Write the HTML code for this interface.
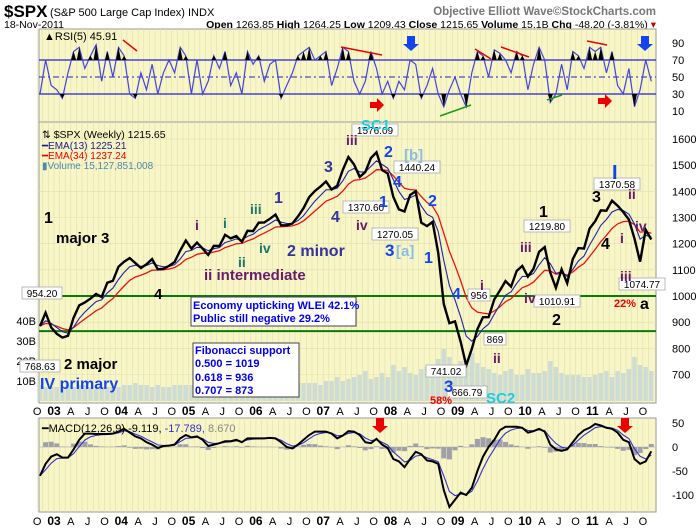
<!DOCTYPE html>
<html><head><meta charset="utf-8"><style>
body{margin:0;background:#fff;}
svg{display:block;font-family:"Liberation Sans",sans-serif;}
</style></head><body>
<svg id="c" width="700" height="530" viewBox="0 0 700 530">
<rect x="0" y="0" width="700" height="530" fill="#fff"/>
<g>
<text x="4" y="17" font-size="17" font-weight="bold" fill="#000">$SPX</text>
<text x="50" y="16" font-size="11" fill="#000">(S&amp;P 500 Large Cap Index) INDX</text>
<text x="656" y="15" font-size="11.5" font-weight="bold" fill="#777" text-anchor="end">Objective Elliott Wave©StockCharts.com</text>
<text x="4" y="28" font-size="10.5" fill="#000">18-Nov-2011</text>
<text x="656" y="28" font-size="10.5" fill="#000" text-anchor="end"><tspan font-weight="bold">Open</tspan> 1263.85 <tspan font-weight="bold">High</tspan> 1264.25 <tspan font-weight="bold">Low</tspan> 1209.43 <tspan font-weight="bold">Close</tspan> 1215.65 <tspan font-weight="bold">Volume</tspan> 15.1B <tspan font-weight="bold">Chg</tspan> -48.20 (-3.81%) <tspan fill="#c00">▾</tspan></text>
</g>
<g id="rsi"></g>
<g id="main"></g>
<g id="macd"></g>
</svg>
<script>
// ---- data (monthly, Oct 2002 .. Nov 2011) ----
const closes=[885,936,880,
855,841,848,917,964,975,990,1008,996,1051,1058,1112,
1131,1145,1126,1107,1121,1141,1102,1104,1115,1130,1174,1212,
1181,1204,1181,1157,1192,1191,1234,1220,1229,1207,1249,1248,
1280,1281,1295,1311,1270,1270,1277,1304,1336,1378,1401,1418,
1438,1407,1421,1482,1531,1503,1455,1474,1527,1549,1481,1468,
1379,1331,1323,1386,1400,1280,1267,1283,1166,969,896,903,
826,735,798,873,919,919,987,1021,1057,1036,1096,1115,
1074,1104,1169,1187,1089,1031,1102,1049,1141,1183,1181,1258,
1286,1327,1326,1364,1345,1321,1292,1219,1131,1253,1216];
const volumes=[8,7,7,
7,7,8,7,8,8,7,6,7,7,7,7,
8,8,9,8,8,7,8,7,7,8,8,8,
8,8,9,8,8,8,8,8,8,9,8,8,
9,9,9,8,11,10,9,9,9,9,9,8,
10,10,12,10,11,12,13,15,11,12,14,12,
18,15,17,14,13,16,17,15,21,26,22,18,
20,21,24,19,17,16,14,13,15,16,13,13,
16,14,14,15,20,17,14,13,13,13,12,12,
13,14,15,12,15,14,16,22,18,17,15];
const rsiVals=[30,70,40,
35,25,55,80,85,60,75,88,45,80,50,85,
75,30,25,55,35,65,30,55,70,55,85,75,
30,70,30,45,75,60,80,40,55,30,80,65,
75,45,65,70,25,40,55,75,80,85,70,75,
80,40,60,85,80,45,30,45,80,60,30,45,
25,45,35,70,65,25,40,60,30,15,35,50,
30,15,55,80,75,50,82,78,70,55,80,75,
35,65,85,70,20,30,65,35,80,75,60,85,
80,85,55,80,40,30,60,15,35,70,45];
const macdVals=[-60,-35,-20,
-15,-22,-22,-5,15,28,28,27,27,27,28,32,
38,30,22,18,10,5,-2,2,3,5,18,25,
20,22,15,2,5,8,12,12,15,10,18,18,
18,18,19,18,10,0,-3,5,15,25,32,32,
32,28,18,24,33,32,25,10,8,17,5,-2,
-25,-30,-42,-25,-10,-15,-28,-30,-35,-90,-125,-110,
-95,-100,-85,-50,-20,0,15,35,42,42,42,40,
30,33,38,32,5,-5,-8,-5,10,25,35,40,
48,45,40,38,30,15,10,-25,-35,-30,-9];
const priceTicks=[700,800,900,1000,1100,1200,1300,1400,1500,1600];
const volTicks=[10,20,30,40];
const rsiTicks=[10,30,50,70,90];
const macdTicks=[50,0,-50,-100];
const years=["03","04","05","06","07","08","09","10","11"];

// ---- scales ----
const L=39,R=656;
const xM=i=>54+(2002.75+i/12+1/24-2003)*67.3;
const xT=t=>54+(t-2003)*67.3;
const yP=p=>296-(p-1000)*0.2617;
const yV=v=>401-v*2.0;
const yR=v=>77-(v-50)*0.85;
const yMa=v=>447-v*0.48;
const NS="http://www.w3.org/2000/svg";
function mk(tag,attrs,parent,txt){const e=document.createElementNS(NS,tag);for(const k in attrs)e.setAttribute(k,attrs[k]);if(txt!=null)e.textContent=txt;parent.appendChild(e);return e;}
function ema(a,n){const k=2/(n+1);const o=[];let p=a[0];a.forEach((v,i)=>{p=i?v*k+p*(1-k):v;o.push(p);});return o;}
function pts(arr,fy){return arr.map((v,i)=>xM(i).toFixed(1)+","+fy(v).toFixed(1)).join(" ");}

function panel(g,top,bot,name){
  const r=mk("rect",{x:L,y:top,width:R-L,height:bot-top,fill:"#f8f6c6",stroke:"#999","stroke-width":1},g);
  
  
  for(let i=0;i<110;i++){const x=xM(i)-2.8;const l=mk("line",{x1:x,x2:x,y1:top,y2:bot,stroke:"#e2dfae","stroke-width":0.6},g);
    
    }
}
function xAxis(g,y){
  for(let yr=2002;yr<=2011;yr++){
    [[0,null],[0.25,"A"],[0.5,"J"],[0.75,"O"]].forEach(([f,lab])=>{
      const t=yr+f;const x=xT(t);if(x<L-4||x>R)return;
      let s=lab,b=false;if(f===0){s=years[yr-2003];b=true;if(!s)return;}
      const e=mk("text",{x:x,y:y,"font-size":b?12:11,"font-weight":b?"bold":"normal","text-anchor":"middle",fill:"#000"},g,s);
      
      
    });
  }
}
function txt(g,x,y,s,size,color,name,bold,anchor){
  const e=mk("text",{x:x,y:y,"font-size":size,fill:color,"font-weight":bold?"bold":"normal","text-anchor":anchor||"start"},g,s);
  
  
  return e;
}
function tag(g,x,y,s,name){
  const w=s.length*6+4;
  const r=mk("rect",{x:x-w/2,y:y-8,width:w,height:12,fill:"#fff",stroke:"#aaa","stroke-width":0.8},g);
  
  
  txt(g,x,y+2,s,10,"#000",name,false,"middle");
}
function line(g,x1,y1,x2,y2,c,w,name){const l=mk("line",{x1,y1,x2,y2,stroke:c,"stroke-width":w},g);
  
  }
function arrowDown(g,x,y,c,name){const p=mk("polygon",{points:`${x-4},${y} ${x+4},${y} ${x+4},${y+8} ${x+8},${y+8} ${x},${y+15} ${x-8},${y+8} ${x-4},${y+8}`,fill:c},g);
  
  }
function arrowRight(g,x,y,c,name){const p=mk("polygon",{points:`${x},${y-3} ${x+7},${y-3} ${x+7},${y-7} ${x+14},${y} ${x+7},${y+7} ${x+7},${y+3} ${x},${y+3}`,fill:c},g);
  
  }

// ---- RSI ----
const gR=document.getElementById("rsi");
panel(gR,29,122,"rsi");
rsiTicks.forEach(v=>{txt(gR,672,yR(v)+4,String(v),11,"#000","rsi-tick-label",false,"start");});
[70,30].forEach(v=>line(gR,L,yR(v),R,yR(v),"#2222cc",1.3,"rsi-threshold-line"));
{const l=mk("line",{x1:L,x2:R,y1:yR(50),y2:yR(50),stroke:"#2222cc","stroke-width":1,"stroke-dasharray":"6,3,2,3"},gR);
 
 }
{const pl=mk("polyline",{points:pts(rsiVals,yR),fill:"none",stroke:"#4444dd","stroke-width":1.2},gR);
 
 }
rsiVals.forEach((v,i)=>{if(v>70){const p=mk("polygon",{points:`${xM(i)-2.5},${yR(70)} ${xM(i)},${yR(v)} ${xM(i)+2.5},${yR(70)}`,fill:"#000"},gR);
  
  }
 if(v<30){const p=mk("polygon",{points:`${xM(i)-2.5},${yR(30)} ${xM(i)},${yR(v)} ${xM(i)+2.5},${yR(30)}`,fill:"#000"},gR);
  
  }});
txt(gR,44,40,"▲RSI(5) 45.91",11,"#000","rsi-legend");
line(gR,123,40,137,51,"#e00",1.5,"rsi-divergence-line");
line(gR,341,47,382,55,"#e00",1.5,"rsi-divergence-line");
line(gR,475,49,491,59,"#e00",1.5,"rsi-divergence-line");
line(gR,501,47,529,57,"#e00",1.5,"rsi-divergence-line");
line(gR,587,41,607,45,"#e00",1.5,"rsi-divergence-line");
line(gR,440,116,471,105,"#1a9a1a",1.5,"rsi-divergence-line");
line(gR,547,100,562,95,"#1a9a1a",1.5,"rsi-divergence-line");
arrowDown(gR,411,36,"#1144ee","rsi-blue-arrow");
arrowDown(gR,645,36,"#1144ee","rsi-blue-arrow");
arrowRight(gR,370,105,"#ee0000","rsi-red-arrow");
arrowRight(gR,598,101,"#ee0000","rsi-red-arrow");

// ---- Main price panel ----
const gM=document.getElementById("main");
panel(gM,122,403,"price");
priceTicks.forEach(p=>{line(gM,L,yP(p),R,yP(p),"#e2dfae",0.6,"h-grid-line");
  txt(gM,672,yP(p)+4,String(p),11,"#000","price-tick-label");});
volTicks.forEach(v=>txt(gM,36,yV(v)+4,v+"B",11,"#000","volume-tick-label",false,"end"));
volumes.forEach((v,i)=>{const r=mk("rect",{x:xM(i)-2.2,y:yV(v),width:4.4,height:401-yV(v),fill:"#c2d6d8",opacity:0.8},gM);
  
  });
line(gM,L,yP(1000),R,yP(1000),"#0a7a0a",2,"support-line-1000");
line(gM,L,yP(866),R,yP(866),"#0a7a0a",2,"support-line-869");
const e13=ema(closes,4),e34=ema(closes,9);
{const pl=mk("polyline",{points:pts(e34,yP),fill:"none",stroke:"#ee1111","stroke-width":1.3},gM);
 
 }
{const pl=mk("polyline",{points:pts(e13,yP),fill:"none",stroke:"#2222aa","stroke-width":1.1},gM);
 
 }
{const pl=mk("polyline",{points:pts(closes,yP),fill:"none",stroke:"#000","stroke-width":2.4},gM);
 
 }
txt(gM,42,138,"⇅ $SPX (Weekly) 1215.65",10.5,"#000","price-legend");
txt(gM,42,149,"━EMA(13) 1225.21",10,"#1a1a8a","ema13-legend");
txt(gM,42,159,"━EMA(34) 1237.24",10,"#e00","ema34-legend");
txt(gM,42,169,"▮Volume 15,127,851,008",10,"#4a8ab0","volume-legend");
{const r=mk("rect",{x:191,y:297,width:165,height:29,fill:"#fff",stroke:"#444","stroke-width":1},gM);
 
 }
txt(gM,193,309,"Economy upticking WLEI 42.1%",11,"#0000ee","economy-text",true);
txt(gM,193,322,"Public still negative 29.2%",11,"#0000ee","public-text",true);
{const r=mk("rect",{x:193,y:343,width:106,height:54,fill:"#fff",stroke:"#444","stroke-width":1},gM);
 
 }
txt(gM,195,354,"Fibonacci support",11,"#0000ee","fib-title",true);
txt(gM,195,367,"0.500 = 1019",11,"#0000ee","fib-500",true);
txt(gM,195,381,"0.618 = 936",11,"#0000ee","fib-618",true);
txt(gM,195,394,"0.707 = 873",11,"#0000ee","fib-707",true);
tag(gM,42,295,"954.20","tag-954");tag(gM,40,368,"768.63","tag-768");
tag(gM,375,132,"1576.09","tag-1576");tag(gM,417,169,"1440.24","tag-1440");
tag(gM,366,209,"1370.60","tag-1370a");tag(gM,395,236,"1270.05","tag-1270");
tag(gM,479,297,"956","tag-956");tag(gM,495,341,"869","tag-869");
tag(gM,446,373,"741.02","tag-741");tag(gM,467,394,"666.79","tag-666");
tag(gM,547,228,"1219.80","tag-1219");tag(gM,557,303,"1010.91","tag-1010");
tag(gM,617,186,"1370.58","tag-1370b");tag(gM,642,286,"1074.77","tag-1074");
const W=[[44,223,"1","#000",16],[56,243,"major 3","#000",15],[154,299,"4","#000",15],[64,369,"2 major","#000",15],[40,389,"IV primary","#1144ee",16],
[195,230,"i","#6a1a6a",14],[223,228,"i","#1a7a6a",14],[250,214,"iii","#1a7a6a",14],[274,203,"1","#333399",16],[259,253,"iv","#1a7a6a",14],[238,267,"ii","#1a7a6a",14],[204,280,"ii intermediate","#6a1a6a",15],[287,256,"2 minor","#333399",16],
[324,172,"3","#333399",16],[331,222,"4","#333399",16],[346,145,"iii","#6a1a6a",14],[384,157,"2","#1144ee",16],[404,160,"[b]","#8abce8",15],[393,187,"4","#1144ee",16],[379,207,"1","#1144ee",16],[356,230,"iv","#6a1a6a",14],[385,256,"3","#1144ee",17],[396,256,"[a]","#8abce8",15],[424,263,"1","#1144ee",16],[428,206,"2","#1144ee",16],[452,299,"4","#1144ee",16],[480,290,"i","#6a1a6a",14],[493,363,"ii","#6a1a6a",14],[444,392,"3","#1144ee",17],[430,404,"58%","#ee0000",11],[486,403,"SC2","#22ccdd",15],[361,130,"SC1","#22ccdd",15],
[539,217,"1","#000",16],[520,252,"iii","#6a1a6a",14],[524,303,"iv","#6a1a6a",14],[552,325,"2","#000",16],[612,179,"I","#1144ee",20],[592,202,"3","#000",16],[628,199,"ii","#6a1a6a",14],[601,249,"4","#000",16],[620,243,"i","#6a1a6a",14],[635,231,"iv","#6a1a6a",14],[620,281,"iii","#6a1a6a",14],[614,307,"22%","#ee0000",11],[640,309,"a","#000",16]];
W.forEach(([x,y,s,c,f])=>txt(gM,x,y,s,f,c,"wave-label",true));
xAxis(gM,415);

// ---- MACD ----
const gD=document.getElementById("macd");
panel(gD,418,512,"macd");
macdTicks.forEach(v=>txt(gD,672,yMa(v)+4,String(v),11,"#000","macd-tick-label"));
line(gD,L,yMa(0),R,yMa(0),"#bbb",0.8,"macd-zero-line");
const sig=ema(macdVals,3);
macdVals.forEach((v,i)=>{const h=(v-sig[i])*0.8;const y0=yMa(0),y1=yMa(h);
  const r=mk("rect",{x:xM(i)-2.5,y:Math.min(y0,y1),width:5,height:Math.abs(y1-y0),fill:"#a0a0ac"},gD);
  
  });
{const pl=mk("polyline",{points:pts(sig,yMa),fill:"none",stroke:"#3333cc","stroke-width":1.1},gD);
 
 }
{const pl=mk("polyline",{points:pts(macdVals,yMa),fill:"none",stroke:"#000","stroke-width":2},gD);
 
 }
{const t=txt(gD,42,432,"━MACD(12,26,9) -9.119, ",11,"#000","macd-legend");
 mk("tspan",{fill:"#3333cc"},t,"-17.789, ");mk("tspan",{fill:"#888"},t,"8.670");}
arrowDown(gD,380,418,"#ee0000","macd-red-arrow");
arrowDown(gD,625,418,"#ee0000","macd-red-arrow");
xAxis(gD,525);
</script>
</body></html>
